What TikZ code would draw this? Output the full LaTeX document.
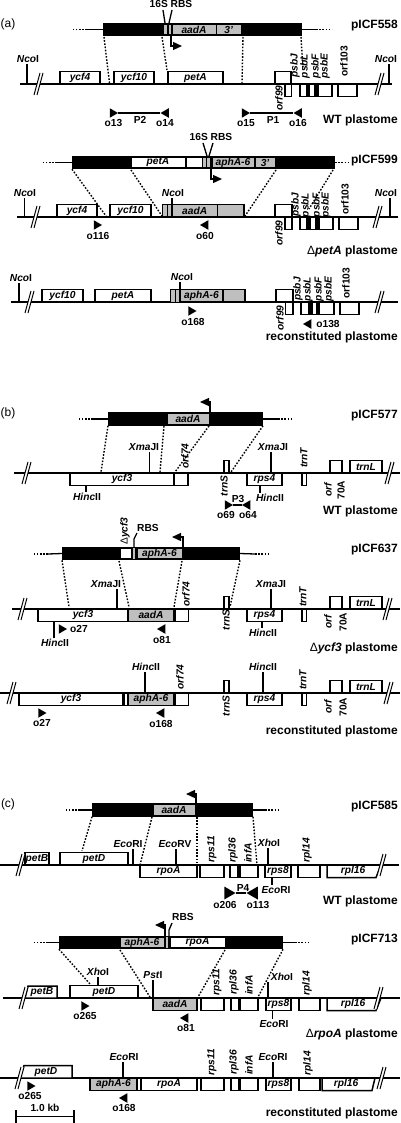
\documentclass[tikz,border=0pt]{standalone}
\usepackage{fontspec}
\setmainfont{Liberation Sans}
\usepackage{xcolor}
\usetikzlibrary{shapes.geometric, arrows.meta}

\tikzset{brk/.pic={
  \fill [white] (-3,11) -- (3,-11) -- (6,-11) -- (0,11) -- cycle;
  \draw [line width=1pt] (-3,11) -- (3,-11);
  \draw [line width=1pt] (0,11) -- (6,-11);
}}

\begin{document}
\begin{tikzpicture}[x=1pt,y=-1pt]

\tikzstyle{gene} = [rectangle, draw=black, line width=1.5pt, fill=white, minimum height=12.5pt, inner sep=0pt, outer sep=0pt, font=\fontsize{10.2}{12}\selectfont\bfseries\itshape]
\tikzstyle{up} = [gene, anchor=south]
\tikzstyle{dn} = [gene, anchor=north]
\tikzstyle{dark} = [dn, fill=black]
\tikzstyle{backbone} = [rectangle, fill=black, minimum height=13.5pt, inner sep=0pt, outer sep=0pt]
\tikzstyle{part} = [gene, line width=0.8pt, minimum height=10.5pt]
\tikzstyle{cass} = [part, fill=gray!50]
\tikzstyle{lab} = [inner sep=1pt, font=\fontsize{10.2}{12}\selectfont\bfseries]
\tikzstyle{rot} = [lab, rotate=90, font=\fontsize{10.2}{12}\selectfont\bfseries\itshape]
\tikzstyle{ttl} = [lab, anchor=east, inner sep=0pt, font=\fontsize{12}{14}\selectfont\bfseries]
\tikzstyle{panel} = [inner sep=0pt, font=\fontsize{12}{14}\selectfont]
\tikzstyle{rpr} = [regular polygon, regular polygon sides=3, shape border rotate=-90, fill=black, inner sep=0pt, minimum size=11pt]
\tikzstyle{lpr} = [rpr, shape border rotate=90]
\tikzstyle{chromo} = [line width=1.3pt]
\tikzstyle{site} = [line width=1.3pt]
\tikzstyle{dot} = [line width=1.4pt, dash pattern=on 1.6pt off 1.6pt]
\tikzstyle{prom} = [line width=1.3pt, -{Triangle[length=9pt,width=8pt]}]

\useasboundingbox (0,0) rectangle (400,1123);

% panel a
\node (pa) [panel] at (8,24) {(a)};
\coordinate (c1l) at (87,29.5);
\coordinate (c1d) at (73,29.5);
\coordinate (c1r) at (316,29.5);
\coordinate (c1e) at (332,29.5);
\node (bar558) [backbone, minimum width=199pt] at (202.5,29.5) {};
\draw [chromo] (bar558.west) -- (c1l);
\draw [dot] (c1l) -- (c1d);
\draw [chromo] (bar558.east) -- (c1r);
\draw [dot] (c1r) -- (c1e);
\node (s16a) [cass, minimum width=4.5pt] at (165.2,29.5) {};
\node (rbsa) [cass, minimum width=3.5pt] at (169.7,29.5) {};
\node (aadA558) [cass, minimum width=44pt] at (194,29.5) {aadA};
\node (tail558) [cass, minimum width=24.5pt] at (228.7,29.5) {3'};
\node (sr558) [lab] at (171,4) {16S RBS};
\node (t558) [ttl] at (398,26) {pICF558};
\coordinate (y1a) at (163,10);
\coordinate (y1b) at (165,23);
\coordinate (y1c) at (172,10);
\coordinate (y1d) at (169,23);
\draw [site] (y1a) -- (y1b);
\draw [site] (y1c) -- (y1d);
\coordinate (pr558) at (171,36);
\coordinate (qr558) at (182,46);
\draw [prom] (pr558) |- (qr558);

\coordinate (la1) at (20,84);
\coordinate (la2) at (392,84);
\draw [chromo] (la1) -- (la2);
\pic at (37,84) {brk};
\pic at (378,84) {brk};
\node (ycf4a) [up, minimum width=40pt] at (80,84) {ycf4};
\node (ycf10a) [up, minimum width=40pt] at (134,84) {ycf10};
\node (petAa) [up, minimum width=55pt] at (195.5,84) {petA};
\node (orf99a) [up, minimum width=16pt] at (283,84) {};
\node (psbJa) [dn, minimum width=6.5pt] at (288,84) {};
\node (psbLa) [dn, minimum width=32pt] at (316,84) {};
\node (psbFa) [dark, minimum width=3pt] at (308,84) {};
\node (psbEa) [dark, minimum width=3pt] at (316.5,84) {};
\node (orf103a) [dn, minimum width=19pt] at (347.5,84) {};
\node (nco1) [lab] at (28,59) {\textit{Nco}I};
\node (nco2) [lab] at (386,59) {\textit{Nco}I};
\coordinate (tk1) at (27,84);
\coordinate (tk2) at (389,84);
\draw [site] (tk1) -- (tk1 |- nco1.south);
\draw [site] (tk2) -- (tk2 |- nco2.south);
\node (l99a) [rot] at (279,98) {orf99};
\node (lJa) [rot] at (295,66) {psbJ};
\node (lLa) [rot] at (305,66) {psbL};
\node (lFa) [rot] at (316,66) {psbF};
\node (lEa) [rot] at (325,66) {psbE};
\node (l103a) [rot] at (344,61) {\textup{orf103}};
\coordinate (da1) at (104,37);
\coordinate (da2) at (109.5,83);
\coordinate (da3) at (162,37);
\coordinate (da4) at (167,70);
\coordinate (da5) at (243,37);
\coordinate (da6) at (242,83);
\coordinate (da7) at (301,37);
\coordinate (da8) at (303,70);
\draw [dot] (da1) -- (da2);
\draw [dot] (da3) -- (da4);
\draw [dot] (da5) -- (da6);
\draw [dot] (da7) -- (da8);
\node (o13a) [rpr] at (112.5,113) {};
\node (o14a) [lpr] at (166,113) {};
\node (o15a) [rpr] at (244.5,113) {};
\node (o16a) [lpr] at (299,113) {};
\draw [chromo] (o13a) -- (o14a);
\draw [chromo] (o15a) -- (o16a);
\node (n13) [lab] at (113.5,123) {o13};
\node (p2) [lab] at (140,120) {P2};
\node (n14) [lab] at (165,123) {o14};
\node (n15) [lab] at (246,123) {o15};
\node (p1) [lab] at (273,120) {P1};
\node (n16) [lab] at (298,123) {o16};
\node (wta) [ttl] at (398,120) {WT plastome};

\coordinate (c2l) at (57,162.5);
\coordinate (c2d) at (42,162.5);
\coordinate (c2e) at (350,162.5);
\node (bar599) [backbone, minimum width=263pt] at (203.5,162.5) {};
\draw [chromo] (bar599.west) -- (c2l);
\draw [dot] (c2l) -- (c2d);
\draw [dot] (bar599.east) -- (c2e);
\node (petA599) [part, minimum width=54pt] at (158,162.5) {petA};
\node (frag599) [part, minimum width=16pt] at (194,162.5) {};
\node (s16b) [cass, minimum width=4pt] at (204.5,162.5) {};
\node (rbsb) [cass, minimum width=3.5pt] at (208.5,162.5) {};
\node (aph599) [cass, minimum width=42pt] at (233,162.5) {aphA-6};
\node (tail599) [cass, minimum width=20pt] at (265,162.5) {3'};
\node (sr599) [lab] at (211,137) {16S RBS};
\node (t599) [ttl] at (398,161) {pICF599};
\coordinate (y2a) at (203,143);
\coordinate (y2b) at (207,156);
\coordinate (y2c) at (213,143);
\coordinate (y2d) at (209,156);
\draw [site] (y2a) -- (y2b);
\draw [site] (y2c) -- (y2d);
\coordinate (pr599) at (211,169);
\coordinate (qr599) at (222,179);
\draw [prom] (pr599) |- (qr599);

\coordinate (lb1) at (17,217);
\coordinate (lb2) at (398,217);
\draw [chromo] (lb1) -- (lb2);
\pic at (34,217) {brk};
\pic at (376,217) {brk};
\node (ycf4b) [up, minimum width=40pt] at (77,217) {ycf4};
\node (ycf10b) [up, minimum width=41pt] at (130.5,217) {ycf10};
\node (s16c) [up, fill=gray!50, line width=1pt, minimum width=4.5pt] at (165.2,217) {};
\node (rbsc) [up, fill=gray!50, line width=1pt, minimum width=4.5pt] at (169.7,217) {};
\node (aadAb) [up, fill=gray!50, minimum width=45.5pt] at (194.7,217) {aadA};
\node (tailb) [up, fill=gray!50, minimum width=26.5pt] at (230.7,217) {};
\node (orf99b) [up, minimum width=17pt] at (283.5,217) {};
\node (psbJb) [dn, minimum width=7pt] at (288.5,217) {};
\node (psbLb) [dn, minimum width=33pt] at (316.5,217) {};
\node (psbFb) [dark, minimum width=3pt] at (308.5,217) {};
\node (psbEb) [dark, minimum width=3pt] at (317.5,217) {};
\node (orf103b) [dn, minimum width=19pt] at (348.5,217) {};
\node (nco3) [lab] at (25,193) {\textit{Nco}I};
\node (nco4) [lab] at (173,193) {\textit{Nco}I};
\node (nco5) [lab] at (386,193) {\textit{Nco}I};
\coordinate (tk3) at (24.5,217);
\coordinate (tk4) at (172,217);
\coordinate (tk5) at (390,217);
\draw [site] (tk3) -- (tk3 |- nco3.south);
\draw [site] (tk4) -- (tk4 |- nco4.south);
\draw [site] (tk5) -- (tk5 |- nco5.south);
\node (l99b) [rot] at (279,233) {orf99};
\node (lJb) [rot] at (296,205) {psbJ};
\node (lLb) [rot] at (306,205) {psbL};
\node (lFb) [rot] at (317,205) {psbF};
\node (lEb) [rot] at (326,205) {psbE};
\node (l103b) [rot] at (345,199) {\textup{orf103}};
\coordinate (db1) at (106,216);
\coordinate (db2) at (162,216);
\coordinate (db3) at (276,170);
\coordinate (db4) at (245,216);
\coordinate (db5) at (333,170);
\coordinate (db6) at (309,209);
\coordinate (db7) at (131,170);
\draw [dot] (bar599.south west) -- (db1);
\draw [dot] (db7) -- (db2);
\draw [dot] (db3) -- (db4);
\draw [dot] (db5) -- (db6);
\node (o116t) [rpr] at (96.5,225) {};
\node (o60t) [lpr] at (205.5,225) {};
\node (n116) [lab] at (98,236) {o116};
\node (n60) [lab] at (205,236) {o60};
\node (wtb) [ttl] at (398,251) {{\mdseries Δ}\textit{petA} plastome};

\coordinate (lc1) at (11,302);
\coordinate (lc2) at (398,302);
\draw [chromo] (lc1) -- (lc2);
\pic at (28,302) {brk};
\pic at (378,302) {brk};
\node (ycf10c) [up, minimum width=41pt] at (62.5,302) {ycf10};
\node (petAc) [up, minimum width=56pt] at (123,302) {petA};
\node (s16d) [up, fill=gray!50, line width=1pt, minimum width=4.5pt] at (173.2,302) {};
\node (rbsd) [up, fill=gray!50, line width=1pt, minimum width=4.5pt] at (177.7,302) {};
\node (aphc) [up, fill=gray!50, minimum width=43pt] at (201.5,302) {aphA-6};
\node (tailc) [up, fill=gray!50, minimum width=22pt] at (234,302) {};
\node (orf99c) [up, minimum width=17pt] at (284.5,302) {};
\node (psbJc) [dn, minimum width=7.5pt] at (289,302) {};
\node (psbLc) [dn, minimum width=33pt] at (317.5,302) {};
\node (psbFc) [dark, minimum width=3.5pt] at (310,302) {};
\node (psbEc) [dark, minimum width=3pt] at (318,302) {};
\node (orf103c) [dn, minimum width=19pt] at (349.5,302) {};
\node (nco6) [lab] at (21,278) {\textit{Nco}I};
\node (nco7) [lab] at (182,277) {\textit{Nco}I};
\coordinate (tk6) at (19,302);
\coordinate (tk7) at (180,302);
\draw [site] (tk6) -- (tk6 |- nco6.south);
\draw [site] (tk7) -- (tk7 |- nco7.south);
\node (l99c) [rot] at (280,318) {orf99};
\node (lJc) [rot] at (298,289) {psbJ};
\node (lLc) [rot] at (308,289) {psbL};
\node (lFc) [rot] at (319,289) {psbF};
\node (lEc) [rot] at (329,289) {psbE};
\node (l103c) [rot] at (346,283) {\textup{orf103}};
\node (o168t) [rpr] at (191,311) {};
\node (o138t) [lpr] at (308.5,324) {};
\node (n168) [lab] at (193,321.5) {o168};
\node (n138) [lab] at (328,324) {o138};
\node (wtc) [ttl] at (398,337) {reconstituted plastome};

% panel b
\node (pb) [panel] at (8,413) {(b)};
\coordinate (c3l) at (93,419);
\coordinate (c3d) at (78,419);
\coordinate (c3r) at (278,419);
\coordinate (c3e) at (293,419);
\node (bar577) [backbone, minimum width=155pt] at (185.5,419) {};
\draw [chromo] (bar577.west) -- (c3l);
\draw [dot] (c3l) -- (c3d);
\draw [chromo] (bar577.east) -- (c3r);
\draw [dot] (c3r) -- (c3e);
\node (aadA577) [cass, minimum width=42pt] at (188,419) {aadA};
\node (t577) [ttl] at (398,416) {pICF577};
\coordinate (pr577) at (210,412);
\coordinate (qr577) at (200,402);
\draw [prom] (pr577) |- (qr577);

\coordinate (ld1) at (14,473);
\coordinate (ld2) at (400,473);
\draw [chromo] (ld1) -- (ld2);
\pic at (25,473) {brk};
\pic at (388,473) {brk};
\node (ycf3d) [dn, minimum width=104pt] at (122,473) {ycf3};
\node (orf74d) [dn, minimum width=14pt] at (181,473) {};
\node (trnSd) [up, minimum width=5pt] at (226.5,473) {};
\node (rps4d) [dn, minimum width=35pt] at (264.5,473) {rps4};
\node (trnTd) [dn, minimum width=4.5pt] at (304,473) {};
\node (orf70d) [up, minimum width=12pt] at (336,473) {};
\node (trnLd) [up, minimum width=32pt] at (366,473) {trnL};
\node (xma1) [lab] at (144,447) {\textit{Xma}JI};
\node (xma2) [lab] at (273,447) {\textit{Xma}JI};
\node (hin1) [lab] at (87,497) {\textit{Hinc}II};
\node (hin2) [lab] at (270,498) {\textit{Hinc}II};
\coordinate (tk8) at (149.5,473);
\coordinate (tk9) at (271,473);
\coordinate (tk10) at (86,486);
\coordinate (tk11) at (260,486);
\draw [site] (tk8) -- (tk8 |- xma1.south);
\draw [site] (tk9) -- (tk9 |- xma2.south);
\draw [site] (tk10) -- (tk10 |- hin1.north);
\draw [site] (tk11) -- (tk11 |- hin2.north);
\node (l74d) [rot] at (185,456) {orf74};
\node (lSd) [rot] at (224,486) {trnS};
\node (lTd) [rot] at (304,458) {trnT};
\node (lOd) [rot] at (328,490) {orf};
\node (lAd) [rot] at (341,490) {\textup{70A}};
\coordinate (dd1) at (101,472);
\coordinate (dd2) at (164,426);
\coordinate (dd3) at (160,472);
\coordinate (dd4) at (209,426);
\coordinate (dd5) at (175,472);
\coordinate (dd6) at (231,472);
\draw [dot] (bar577.south west) -- (dd1);
\draw [dot] (dd2) -- (dd3);
\draw [dot] (dd4) -- (dd5);
\draw [dot] (bar577.south east) -- (dd6);
\node (o69t) [rpr] at (227.5,505) {};
\node (o64t) [lpr] at (247.5,505) {};
\draw [chromo] (o69t) -- (o64t);
\node (p3) [lab] at (238,499) {P3};
\node (n69) [lab] at (226,515) {o69};
\node (n64) [lab] at (248,515) {o64};
\node (wtd) [ttl] at (398,511) {WT plastome};

\coordinate (c4l) at (48,554);
\coordinate (c4d) at (33,554);
\coordinate (c4r) at (255,554);
\coordinate (c4e) at (270,554);
\node (bar637) [backbone, minimum width=178pt] at (151,553.5) {};
\draw [chromo] (bar637.west) -- (c4l);
\draw [dot] (c4l) -- (c4d);
\draw [chromo] (bar637.east) -- (c4r);
\draw [dot] (c4r) -- (c4e);
\node (del637) [part, minimum width=11pt] at (125.5,553.5) {};
\node (rbs637) [cass, draw=none, minimum width=2pt] at (134,553.5) {};
\node (aph637) [cass, minimum width=45pt] at (159.5,553.5) {aphA-6};
\node (t637) [ttl] at (398,550) {pICF637};
\node (ldel) [rot] at (125,531) {{\mdseries\upshape Δ}ycf3};
\node (rbse) [lab] at (148,528) {RBS};
\coordinate (y5a) at (134,547);
\coordinate (y5b) at (137,533);
\draw [site] (y5a) -- ++(0,-8) -- (y5b);
\coordinate (pr637) at (183,547);
\coordinate (qr637) at (172,537);
\draw [prom] (pr637) |- (qr637);

\coordinate (le1) at (12,609);
\coordinate (le2) at (400,609);
\draw [chromo] (le1) -- (le2);
\pic at (21,609) {brk};
\pic at (386,609) {brk};
\node (ycf3e) [dn, minimum width=90pt] at (83,609) {ycf3};
\node (aadAe) [dn, fill=gray!50, minimum width=46pt] at (151,609) {aadA};
\node (orf74e) [dn, minimum width=13.5pt] at (181.5,609) {};
\node (trnSe) [up, minimum width=5pt] at (226.5,609) {};
\node (rps4e) [dn, minimum width=35pt] at (264.5,609) {rps4};
\node (trnTe) [dn, minimum width=4.5pt] at (304,609) {};
\node (orf70e) [up, minimum width=12pt] at (336,609) {};
\node (trnLe) [up, minimum width=32pt] at (366,609) {trnL};
\node (xma3) [lab] at (106,584) {\textit{Xma}JI};
\node (xma4) [lab] at (271,584) {\textit{Xma}JI};
\node (hin3) [lab] at (55,643) {\textit{Hinc}II};
\node (hin4) [lab] at (263,633) {\textit{Hinc}II};
\coordinate (tk12) at (117,609);
\coordinate (tk13) at (271,609);
\coordinate (tk14) at (54,622);
\coordinate (tk15) at (262,622);
\draw [site] (tk12) -- (tk12 |- xma3.south);
\draw [site] (tk13) -- (tk13 |- xma4.south);
\draw [site] (tk14) -- (tk14 |- hin3.north);
\draw [site] (tk15) -- (tk15 |- hin4.north);
\node (l74e) [rot] at (186,594) {orf74};
\node (lSe) [rot] at (226,620) {trnS};
\node (lTe) [rot] at (303,597) {trnT};
\node (lOe) [rot] at (328,622) {orf};
\node (lAe) [rot] at (343,622) {\textup{70A}};
\coordinate (de1) at (69,607);
\coordinate (de2) at (119,561);
\coordinate (de3) at (129,607);
\coordinate (de4) at (182,561);
\coordinate (de5) at (174,607);
\coordinate (de6) at (230,607);
\draw [dot] (bar637.south west) -- (de1);
\draw [dot] (de2) -- (de3);
\draw [dot] (de4) -- (de5);
\draw [dot] (bar637.south east) -- (de6);
\node (o27t) [rpr] at (61.5,629) {};
\node (o81t) [lpr] at (162.5,629) {};
\node (n27) [lab] at (79,629) {o27};
\node (n81) [lab] at (162,640) {o81};
\node (wte) [ttl] at (398,648) {{\mdseries Δ}\textit{ycf3} plastome};

\coordinate (lf1) at (0,693);
\coordinate (lf2) at (400,693);
\draw [chromo] (lf1) -- (lf2);
\pic at (10,693) {brk};
\pic at (387,693) {brk};
\node (ycf3f) [dn, minimum width=104pt] at (71,693) {ycf3};
\node (rbsf) [dn, line width=1pt, minimum width=3pt] at (125.5,693) {};
\node (aphf) [dn, fill=gray!50, minimum width=46pt] at (151,693) {aphA-6};
\node (orf74f) [dn, minimum width=13.5pt] at (181.5,693) {};
\node (trnSf) [up, minimum width=5pt] at (226.5,693) {};
\node (rps4f) [dn, minimum width=35pt] at (264.5,693) {rps4};
\node (trnTf) [dn, minimum width=4.5pt] at (304,693) {};
\node (orf70f) [up, minimum width=12pt] at (336,693) {};
\node (trnLf) [up, minimum width=32pt] at (366,693) {trnL};
\node (hin5) [lab] at (146,667) {\textit{Hinc}II};
\node (hin6) [lab] at (263,667) {\textit{Hinc}II};
\coordinate (tk16) at (145,693);
\coordinate (tk17) at (263,693);
\draw [site] (tk16) -- (tk16 |- hin5.south);
\draw [site] (tk17) -- (tk17 |- hin6.south);
\node (l74f) [rot] at (180,677) {orf74};
\node (lSf) [rot] at (226,706) {trnS};
\node (lTf) [rot] at (303,680) {trnT};
\node (lOf) [rot] at (328,707) {orf};
\node (lAf) [rot] at (343,707) {\textup{70A}};
\node (o27u) [rpr] at (41,713) {};
\node (o168u) [lpr] at (161.5,713) {};
\node (n27f) [lab] at (42,723) {o27};
\node (n168f) [lab] at (161,723.5) {o168};
\node (wtf) [ttl] at (398,731) {reconstituted plastome};

% panel c
\node (pc) [panel] at (8,804) {(c)};
\coordinate (c5l) at (80,810);
\coordinate (c5d) at (65,810);
\coordinate (c5r) at (265,810);
\coordinate (c5e) at (279,810);
\node (bar585) [backbone, minimum width=161pt] at (172.5,810) {};
\draw [chromo] (bar585.west) -- (c5l);
\draw [dot] (c5l) -- (c5d);
\draw [chromo] (bar585.east) -- (c5r);
\draw [dot] (c5r) -- (c5e);
\node (aadA585) [cass, minimum width=42pt] at (174,810) {aadA};
\node (t585) [ttl] at (398,807) {pICF585};
\coordinate (pr585) at (196,803);
\coordinate (qr585) at (186,794);
\draw [prom] (pr585) |- (qr585);

\coordinate (lg1) at (0,865);
\coordinate (lg2) at (399,865);
\draw [chromo] (lg1) -- (lg2);
\node (petBg) [up, minimum width=24pt] at (37,865) {petB};
\node (petDg) [up, minimum width=68pt] at (94,865) {petD};
\node (rpoAg) [dn, minimum width=57pt] at (168.5,865) {rpoA};
\node (rps11g) [dn, minimum width=24pt] at (212,865) {};
\node (rpl36g) [dn, minimum width=8pt] at (234,865) {};
\node (infAg) [dn, minimum width=18pt] at (249,865) {};
\node (rps8g) [dn, minimum width=26pt] at (278,865) {rps8};
\node (rpl14g) [dn, minimum width=22pt] at (309,865) {};
\draw [gene] (327,865) -- (381,865) -- (376,877.5) -- (327,877.5) -- cycle;
\node (rpl16g) [lab, font=\fontsize{10.2}{12}\selectfont\bfseries\itshape] at (353,871) {rpl16};
\pic at (19,865) {brk};
\pic at (380,865) {brk};
\node (eco1) [lab] at (128,844) {\textit{Eco}RI};
\node (ecv1) [lab] at (175,844) {\textit{Eco}RV};
\node (xho1) [lab] at (269,843) {\textit{Xho}I};
\node (eco2) [lab] at (276,890) {\textit{Eco}RI};
\coordinate (tk18) at (133,865);
\coordinate (tk19) at (176,865);
\coordinate (tk20) at (268,865);
\coordinate (tk21) at (272,878);
\draw [site] (tk18) -- (tk18 |- eco1.south);
\draw [site] (tk19) -- (tk19 |- ecv1.south);
\draw [site] (tk20) -- (tk20 |- xho1.south);
\draw [site] (tk21) -- (tk21 |- eco2.north);
\node (l11g) [rot] at (212,849) {rps11};
\node (l36g) [rot] at (233,850) {rpl36};
\node (lAg) [rot] at (248,853) {infA};
\node (l14g) [rot] at (307,850) {rpl14};
\coordinate (dg1) at (82,851);
\coordinate (dg2) at (152,817);
\coordinate (dg3) at (140,865);
\coordinate (dg4) at (197,817);
\coordinate (dg5) at (197,865);
\coordinate (dg6) at (257,865);
\draw [dot] (bar585.south west) -- (dg1);
\draw [dot] (dg2) -- (dg3);
\draw [dot] (dg4) -- (dg5);
\draw [dot] (bar585.south east) -- (dg6);
\node (o206t) [rpr, minimum size=15pt] at (228,893) {};
\node (o113t) [lpr, minimum size=15pt] at (254,893) {};
\draw [chromo] (o206t) -- (o113t);
\node (p4) [lab] at (243,888) {P4};
\node (n206) [lab] at (225,905) {o206};
\node (n113) [lab] at (258,905) {o113};
\node (wtg) [ttl] at (398,901) {WT plastome};

\coordinate (c6l) at (48,942.5);
\coordinate (c6d) at (34,942.5);
\coordinate (c6r) at (295,942.5);
\coordinate (c6e) at (308,942.5);
\node (bar713) [backbone, minimum width=224pt] at (171,942.5) {};
\draw [chromo] (bar713.west) -- (c6l);
\draw [dot] (c6l) -- (c6d);
\draw [chromo] (bar713.east) -- (c6r);
\draw [dot] (c6r) -- (c6e);
\node (aph713) [cass, minimum width=44pt] at (142,942.5) {aphA-6};
\node (rbs713) [cass, draw=none, minimum width=1.5pt] at (167,942.5) {};
\node (rpoA713) [part, minimum width=55pt] at (197.5,942.5) {rpoA};
\node (t713) [ttl] at (398,940) {pICF713};
\node (rbsg) [lab] at (183,917) {RBS};
\coordinate (y6a) at (169,936);
\coordinate (y6b) at (172,923);
\draw [site] (y6a) -- ++(0,-6) -- (y6b);
\coordinate (pr713) at (165,936);
\coordinate (qr713) at (155,925);
\draw [prom] (pr713) |- (qr713);

\coordinate (lh1) at (3,998);
\coordinate (lh2) at (400,998);
\draw [chromo] (lh1) -- (lh2);
\draw [gene] (28,986) -- (57,986) -- (57,998) -- (25,998) -- cycle;
\node (petBh) [lab, font=\fontsize{10.2}{12}\selectfont\bfseries\itshape] at (42,992) {petB};
\node (petDh) [up, minimum width=68pt] at (104,998) {petD};
\node (aadAh) [dn, fill=gray!50, minimum width=44pt] at (175,998) {aadA};
\node (rps11h) [dn, minimum width=23pt] at (212.5,998) {};
\node (rpl36h) [dn, minimum width=8pt] at (235,998) {};
\node (infAh) [dn, minimum width=18pt] at (249,998) {};
\node (rps8h) [dn, minimum width=25pt] at (278.5,998) {rps8};
\node (rpl14h) [dn, minimum width=21pt] at (309.5,998) {};
\draw [gene] (327,998) -- (381,998) -- (376,1010.5) -- (327,1010.5) -- cycle;
\node (rpl16h) [lab, font=\fontsize{10.2}{12}\selectfont\bfseries\itshape] at (353,1004) {rpl16};
\pic at (22,998) {brk};
\pic at (377,998) {brk};
\node (xho2) [lab] at (98,972) {\textit{Xho}I};
\node (pst1) [lab] at (153,975) {\textit{Pst}I};
\node (xho3) [lab] at (282,977) {\textit{Xho}I};
\node (eco3) [lab] at (274,1024) {\textit{Eco}RI};
\coordinate (tk22) at (98,986);
\coordinate (tk23) at (153,998);
\coordinate (tk24) at (268,998);
\coordinate (tk25) at (272.5,1011);
\draw [site] (tk22) -- (tk22 |- xho2.south);
\draw [site] (tk23) -- (tk23 |- pst1.south);
\draw [site] (tk24) -- (tk24 |- xho3.south);
\draw [site] (tk25) -- (tk25 |- eco3.north);
\node (l11h) [rot] at (217,982) {rps11};
\node (l36h) [rot] at (234,982) {rpl36};
\node (lAh) [rot] at (249,985) {infA};
\node (l14h) [rot] at (307,983) {rpl14};
\coordinate (dh1) at (91,985);
\coordinate (dh2) at (120,950);
\coordinate (dh3) at (150,997);
\coordinate (dh4) at (225,950);
\coordinate (dh5) at (198,997);
\coordinate (dh6) at (258,997);
\draw [dot] (bar713.south west) -- (dh1);
\draw [dot] (dh2) -- (dh3);
\draw [dot] (dh4) -- (dh5);
\draw [dot] (bar713.south east) -- (dh6);
\node (o265t) [rpr] at (84,1006) {};
\node (o81u) [lpr] at (185.5,1018) {};
\node (n265) [lab] at (85,1016) {o265};
\node (n81h) [lab] at (186,1028) {o81};
\node (wth) [ttl] at (398,1034) {{\mdseries Δ}\textit{rpoA} plastome};

\coordinate (li1) at (0,1078);
\coordinate (li2) at (400,1078);
\draw [chromo] (li1) -- (li2);
\draw [gene] (24,1065.5) -- (72,1065.5) -- (72,1078) -- (20,1078) -- cycle;
\node (petDi) [lab, font=\fontsize{10.2}{12}\selectfont\bfseries\itshape] at (46,1072) {petD};
\node (aphi) [dn, fill=gray!50, minimum width=47pt] at (113.5,1078) {aphA-6};
\node (rbsi) [dn, line width=1pt, minimum width=3pt] at (138.5,1078) {};
\node (rpoAi) [dn, minimum width=56pt] at (169,1078) {rpoA};
\node (rps11i) [dn, minimum width=23pt] at (212.5,1078) {};
\node (rpl36i) [dn, minimum width=8pt] at (235,1078) {};
\node (infAi) [dn, minimum width=18pt] at (249,1078) {};
\node (rps8i) [dn, minimum width=25pt] at (278.5,1078) {rps8};
\node (rpl14i) [dn, minimum width=21pt] at (309.5,1078) {};
\draw [gene] (322,1078) -- (375,1078) -- (372,1090.5) -- (322,1090.5) -- cycle;
\node (rpl16i) [lab, font=\fontsize{10.2}{12}\selectfont\bfseries\itshape] at (346,1084) {rpl16};
\pic at (18,1078) {brk};
\pic at (380,1078) {brk};
\node (eco4) [lab] at (124,1057) {\textit{Eco}RI};
\node (eco5) [lab] at (273,1057) {\textit{Eco}RI};
\coordinate (tk26) at (123,1078);
\coordinate (tk27) at (273,1078);
\draw [site] (tk26) -- (tk26 |- eco4.south);
\draw [site] (tk27) -- (tk27 |- eco5.south);
\node (l11i) [rot] at (212,1062) {rps11};
\node (l36i) [rot] at (234,1062) {rpl36};
\node (lAi) [rot] at (249,1065) {infA};
\node (l14i) [rot] at (308,1063) {rpl14};
\node (o265u) [rpr] at (30,1086) {};
\node (o168v) [lpr] at (124.5,1098) {};
\node (n265i) [lab] at (30,1095.5) {o265};
\node (n168i) [lab] at (124,1108) {o168};
\node (wti) [ttl] at (398,1113) {reconstituted plastome};

\coordinate (sc1) at (16,1116.5);
\coordinate (sc2) at (74,1116.5);
\draw [line width=1.8pt] (sc1) -- (sc2);
\draw [line width=1.5pt] ([yshift=6.5pt]sc1) -- ([yshift=-6.5pt]sc1);
\draw [line width=1.5pt] ([yshift=6.5pt]sc2) -- ([yshift=-6.5pt]sc2);
\node (kb) [lab] at (45,1108) {1.0 kb};

\end{tikzpicture}
\end{document}
